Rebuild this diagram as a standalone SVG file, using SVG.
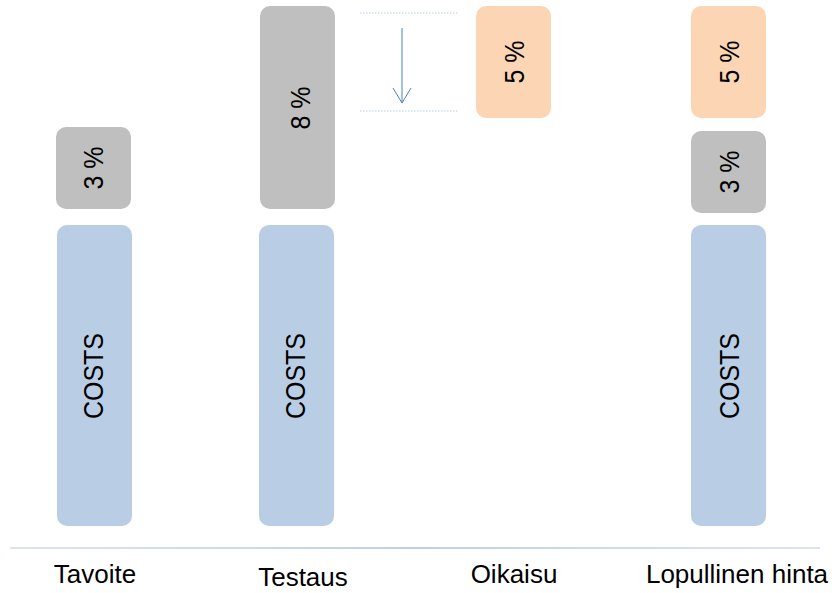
<svg xmlns="http://www.w3.org/2000/svg" width="832" height="593" viewBox="0 0 832 593">
<style>
.grey{fill:#bfbfbf}
.blue{fill:#b9cde5}
.peach{fill:#fcd5b5}
.t{font-family:"Liberation Sans",Arial,sans-serif;font-size:25px;fill:#000;text-anchor:middle}
.lbl{font-size:26px}
.dot{stroke:#b9cde5;stroke-width:1;stroke-dasharray:1.5 1.5;fill:none}
</style>
<defs>
<linearGradient id="base" gradientUnits="userSpaceOnUse" x1="10" x2="820" y1="0" y2="0">
<stop offset="0" stop-color="#b9cde5" stop-opacity="0.7"/>
<stop offset="0.5" stop-color="#a9bfdc"/>
<stop offset="1" stop-color="#b9cde5" stop-opacity="0.7"/>
</linearGradient>
</defs>
<g id="connectors">
<line class="dot" x1="360" y1="13" x2="458" y2="13"/>
<line class="dot" x1="360" y1="111" x2="458" y2="111"/>
<line x1="402" y1="28" x2="402" y2="103" stroke="#4f81bd" stroke-width="1"/>
<polyline points="393,88 402,103 411,88" fill="none" stroke="#4f81bd" stroke-width="1"/>
<line x1="10" y1="548" x2="820" y2="548" stroke="url(#base)" stroke-width="1.5"/>
</g>
<g id="tavoite-costs"><rect class="blue" x="57" y="225" width="75" height="301" rx="10"/><text class="t" transform="translate(103,376) rotate(-90) scale(1,1.12)">COSTS</text></g>
<g id="tavoite-3"><rect class="grey" x="56" y="127" width="75" height="82" rx="10"/><text class="t" transform="translate(103,168) rotate(-90) scale(1,1.12)">3 %</text></g>
<g id="testaus-costs"><rect class="blue" x="259" y="225" width="75" height="301" rx="10"/><text class="t" transform="translate(305,376) rotate(-90) scale(1,1.12)">COSTS</text></g>
<g id="testaus-8"><rect class="grey" x="260" y="6" width="75" height="203" rx="10"/><text class="t" transform="translate(310,108) rotate(-90) scale(1,1.12)">8 %</text></g>
<g id="oikaisu-5"><rect class="peach" x="476" y="6" width="75" height="112" rx="10"/><text class="t" transform="translate(524,62) rotate(-90) scale(1,1.12)">5 %</text></g>
<g id="lopullinen-5"><rect class="peach" x="691" y="6" width="75" height="112" rx="10"/><text class="t" transform="translate(739,62) rotate(-90) scale(1,1.12)">5 %</text></g>
<g id="lopullinen-3"><rect class="grey" x="691" y="131" width="75" height="82" rx="10"/><text class="t" transform="translate(739,172) rotate(-90) scale(1,1.12)">3 %</text></g>
<g id="lopullinen-costs"><rect class="blue" x="691" y="225" width="75" height="301" rx="10"/><text class="t" transform="translate(739,376) rotate(-90) scale(1,1.12)">COSTS</text></g>
<g id="labels">
<text class="t lbl" x="95" y="583">Tavoite</text>
<text class="t lbl" x="303" y="586">Testaus</text>
<text class="t lbl" x="514" y="583">Oikaisu</text>
<text class="t lbl" x="737" y="583">Lopullinen hinta</text>
</g>
</svg>
